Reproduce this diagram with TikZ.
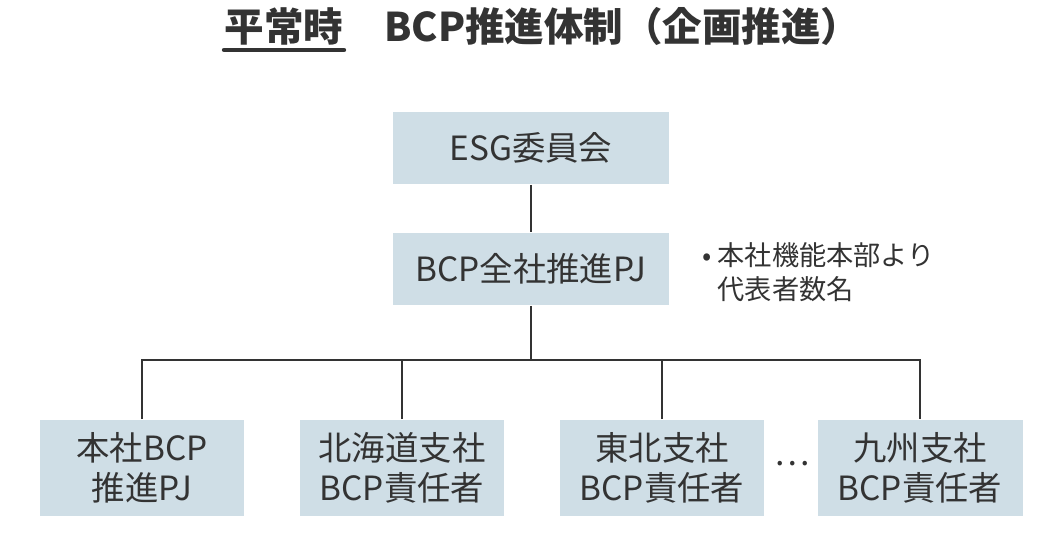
\documentclass[tikz,border=0pt]{standalone}
\usepackage{fontspec}
\setmainfont{Noto Sans CJK JP}
\usetikzlibrary{positioning}
\definecolor{boxfill}{HTML}{CFDEE6}
\definecolor{ink}{HTML}{333333}

\begin{document}
\begin{tikzpicture}[x=0.02cm,y=-0.02cm,font=\fontsize{19}{23}\selectfont,text=ink]

\tikzstyle{unit}=[fill=boxfill,draw=none,align=center,inner sep=0pt]
\tikzstyle{topunit}=[unit,minimum width=5.54cm,minimum height=1.46cm]
\tikzstyle{branch}=[unit,minimum width=4.1cm,minimum height=1.94cm]
\tikzstyle{link}=[draw=ink,line width=0.9pt]

\useasboundingbox (0,0) rectangle (1060,540);

%title
\node (ordinary) at (284,26) {\fontsize{22.5}{26}\selectfont\bfseries 平常時};
\draw [ink,line width=2.5pt,line cap=round] (224,50) -- (344,50);
\node [anchor=west] (title) at (378,26) {\fontsize{22.5}{26}\selectfont\bfseries BCP推進体制（企画推進）};

%committee and project
\node [topunit] (esg) at (531,148) {ESG委員会};
\node [topunit] (pj) at (531,269) {BCP全社推進PJ};
\node [anchor=north west,align=left,font=\fontsize{15.5}{19.5}\selectfont] (note) at (696,236) {• 本社機能本部より\\\hphantom{• }代表者数名};

%branches
\node [branch] (hq) at (142,468) {本社BCP\\推進PJ};
\node [branch] (hokkaido) at (402,468) {北海道支社\\BCP責任者};
\node [branch] (tohoku) at (662,468) {東北支社\\BCP責任者};
\node [branch] (kyushu) at (920,468) {九州支社\\BCP責任者};
\node (dots) at (792,464) {…};

\coordinate (bus) at (531,360);
\path [link] (esg) -- (pj);
\path [link] (pj) -- (bus);
\path [link] (hq.north) |- (bus) -| (kyushu.north);
\path [link] (hokkaido.north) -- (hokkaido.north |- bus);
\path [link] (tohoku.north) -- (tohoku.north |- bus);

\end{tikzpicture}
\end{document}
